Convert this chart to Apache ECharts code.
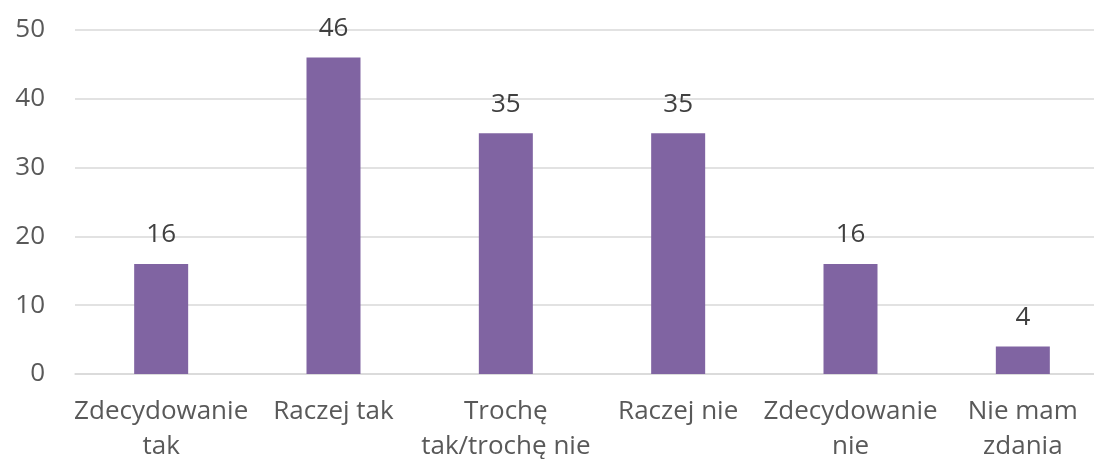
<!DOCTYPE html>
<html>
<head>
<meta charset="utf-8">
<script src="https://cdn.jsdelivr.net/npm/echarts@6/dist/echarts.min.js"></script>
<style>
  html, body { margin: 0; padding: 0; background: #fff; }
  #main { width: 1094px; height: 459px; }
</style>
</head>
<body>
<div id="main"></div>
<script>
const categories = ['Zdecydowanie\ntak', 'Raczej tak', 'Trochę\ntak/trochę nie', 'Raczej nie', 'Zdecydowanie\nnie', 'Nie mam\nzdania'];
const values = [16, 46, 35, 35, 16, 4];
const yTicks = { min: 0, max: 50, interval: 10 };

const textColor = '#595959';
const font = '"Open Sans", sans-serif';

let option = {
    backgroundColor: '#fff',
    animation: false,
    grid: {
        left: 75,
        width: 1034,
        top: 30,
        height: 344,
        outerBoundsMode: 'none',
        containLabel: false
    },
    xAxis: {
        type: 'category',
        data: categories,
        axisLine: { lineStyle: { color: '#d9d9d9', width: 1.5 } },
        axisTick: { show: false },
        axisLabel: {
            color: textColor,
            fontFamily: font,
            fontSize: 26,
            lineHeight: 35,
            margin: 20,
            interval: 0
        }
    },
    yAxis: {
        type: 'value',
        min: yTicks.min,
        max: yTicks.max,
        interval: yTicks.interval,
        axisLine: { show: false },
        axisTick: { show: false },
        splitLine: { lineStyle: { color: '#d9d9d9', width: 1.5 } },
        axisLabel: {
            color: textColor,
            fontFamily: font,
            fontSize: 26,
            margin: 30
        }
    },
    series: [{
        type: 'bar',
        data: values,
        barWidth: 54,
        itemStyle: { color: '#8064A2' },
        label: {
            show: true,
            position: 'top',
            distance: 16,
            color: '#404040',
            fontFamily: font,
            fontSize: 26
        }
    }]
};

let myChart = echarts.init(document.getElementById('main'));
myChart.setOption(option);
</script>
</body>
</html>
